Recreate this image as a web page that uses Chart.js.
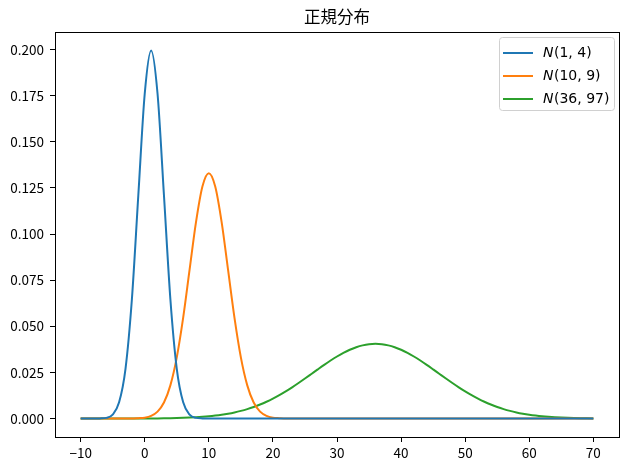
<!DOCTYPE html>
<html>
<head>
<meta charset="utf-8">
<script src="https://cdn.jsdelivr.net/npm/chart.js@4"></script>
<style>
html,body{margin:0;padding:0;background:#fff;}
canvas{display:block;}
</style>
</head>
<body>
<canvas id="c" width="630" height="470"></canvas>
<script>
const chartTitle = '正規分布';
const seriesLabels = [['N', '(1, 4)'], ['N', '(10, 9)'], ['N', '(36, 97)']];
const seriesColors = ['#1f77b4', '#ff7f0e', '#2ca02c'];
const xTickValues = [-10, 0, 10, 20, 30, 40, 50, 60, 70];
const yTickValues = [0, 0.025, 0.05, 0.075, 0.1, 0.125, 0.15, 0.175, 0.2];

const xValues = [
 -10,-9,-8,-7,-6,-5,-4,-3,-2,-1,
 0,1,2,3,4,5,6,7,8,9,
 10,11,12,13,14,15,16,17,18,19,
 20,21,22,23,24,25,26,27,28,29,
 30,31,32,33,34,35,36,37,38,39,
 40,41,42,43,44,45,46,47,48,49,
 50,51,52,53,54,55,56,57,58,59,
 60,61,62,63,64,65,66,67,68,69,
 70
];
const blueValues = [
 0,0,0,0.0001,0.0004,0.0022,0.0088,0.0270,0.0648,0.1210,
 0.1760,0.1995,0.1760,0.1210,0.0648,0.0270,0.0088,0.0022,0.0004,0.0001,
 0,0,0,0,0,0,0,0,0,0,
 0,0,0,0,0,0,0,0,0,0,
 0,0,0,0,0,0,0,0,0,0,
 0,0,0,0,0,0,0,0,0,0,
 0,0,0,0,0,0,0,0,0,0,
 0,0,0,0,0,0,0,0,0,0,
 0
];
const orangeValues = [
 0,0,0,0,0,0,0,0,0,0.0002,
 0.0005,0.0015,0.0038,0.0087,0.0180,0.0332,0.0547,0.0807,0.1065,0.1258,
 0.1330,0.1258,0.1065,0.0807,0.0547,0.0332,0.0180,0.0087,0.0038,0.0015,
 0.0005,0.0002,0,0,0,0,0,0,0,0,
 0,0,0,0,0,0,0,0,0,0,
 0,0,0,0,0,0,0,0,0,0,
 0,0,0,0,0,0,0,0,0,0,
 0,0,0,0,0,0,0,0,0,0,
 0
];
const greenValues = [
 0,0.000001,0.000002,0.000003,0.000005,0.000007,0.000011,0.000016,0.000024,0.000035,
 0.000051,0.000073,0.000105,0.000148,0.000207,0.000286,0.000392,0.000531,0.000712,0.000946,
 0.00124,0.00162,0.00208,0.00265,0.00334,0.00417,0.00515,0.00630,0.00762,0.00913,
 0.01083,0.01270,0.01475,0.01695,0.01928,0.02171,0.02419,0.02668,0.02913,0.03147,
 0.03365,0.03561,0.03730,0.03867,0.03968,0.04030,0.04051,0.04030,0.03968,0.03867,
 0.03730,0.03561,0.03365,0.03147,0.02913,0.02668,0.02419,0.02171,0.01928,0.01695,
 0.01475,0.01270,0.01083,0.00913,0.00762,0.00630,0.00515,0.00417,0.00334,0.00265,
 0.00208,0.00162,0.00124,0.000946,0.000712,0.000531,0.000392,0.000286,0.000207,0.000148,
 0.000105
];

const allSeries = [blueValues, orangeValues, greenValues];
const tickFont = '"Noto Sans CJK JP", sans-serif';

const frameAndText = {
  id: 'frameAndText',
  afterDraw(chart) {
    const ctx = chart.ctx, a = chart.chartArea;
    ctx.save();
    ctx.strokeStyle = '#000';
    ctx.lineWidth = 1;
    ctx.strokeRect(Math.round(a.left) + 0.5, Math.round(a.top) + 0.5,
                   Math.round(a.right - a.left), Math.round(a.bottom - a.top));
    // title
    ctx.fillStyle = '#000';
    ctx.font = '16.5px ' + tickFont;
    ctx.textAlign = 'center';
    ctx.textBaseline = 'middle';
    ctx.fillText(chartTitle, (a.left + a.right) / 2, 17);
    // legend
    const bw = 115, bh = 73;
    const bx = a.right - 5 - bw, by = a.top + 5;
    ctx.beginPath();
    if (ctx.roundRect) ctx.roundRect(bx + 0.5, by + 0.5, bw, bh, 3); else ctx.rect(bx + 0.5, by + 0.5, bw, bh);
    ctx.fillStyle = 'rgba(255,255,255,0.8)';
    ctx.fill();
    ctx.strokeStyle = '#d0d0d0';
    ctx.lineWidth = 1;
    ctx.stroke();
    ctx.textAlign = 'left';
    ctx.textBaseline = 'middle';
    for (let i = 0; i < seriesLabels.length; i++) {
      const yy = by + 16 + i * 23;
      ctx.strokeStyle = seriesColors[i];
      ctx.lineWidth = 2;
      ctx.beginPath();
      ctx.moveTo(bx + 4, yy);
      ctx.lineTo(bx + 34, yy);
      ctx.stroke();
      ctx.fillStyle = '#000';
      ctx.font = 'italic 14px "DejaVu Sans"';
      const tx = bx + 44;
      ctx.fillText(seriesLabels[i][0], tx, yy);
      const w = ctx.measureText(seriesLabels[i][0]).width;
      ctx.font = '14px "DejaVu Sans"';
      ctx.fillText(seriesLabels[i][1], tx + w + 0.5, yy);
    }
    ctx.restore();
  }
};

new Chart(document.getElementById('c'), {
  type: 'line',
  data: {
    datasets: allSeries.map((vals, i) => ({
      label: seriesLabels[i].join(''),
      data: xValues.map((x, j) => ({ x: x, y: vals[j] })),
      borderColor: seriesColors[i],
      backgroundColor: seriesColors[i],
      borderWidth: 2,
      pointRadius: 0,
      fill: false,
      cubicInterpolationMode: 'monotone'
    }))
  },
  options: {
    responsive: false,
    animation: false,
    events: [],
    layout: { padding: { top: 32, right: 11, left: 0, bottom: 0 } },
    plugins: { legend: { display: false }, tooltip: { enabled: false }, title: { display: false } },
    scales: {
      x: {
        type: 'linear',
        min: -14,
        max: 74,
        afterBuildTicks(s) { s.ticks = xTickValues.map(v => ({ value: v })); },
        afterFit(s) { s.height = 33; },
        border: { display: true, color: '#000', width: 1 },
        grid: { display: true, drawOnChartArea: false, drawTicks: true, tickLength: 5, tickColor: '#000', tickWidth: 1 },
        ticks: {
          color: '#000',
          padding: 3,
          maxRotation: 0,
          autoSkip: false,
          font: { family: tickFont, size: 13.5 },
          callback: v => (v < 0 ? '\u2212' + Math.abs(v) : String(v))
        }
      },
      y: {
        min: -0.009975,
        max: 0.209475,
        afterBuildTicks(s) { s.ticks = yTickValues.map(v => ({ value: v })); },
        afterFit(s) { s.width = 55; },
        border: { display: true, color: '#000', width: 1 },
        grid: { display: true, drawOnChartArea: false, drawTicks: true, tickLength: 5, tickColor: '#000', tickWidth: 1 },
        ticks: {
          color: '#000',
          padding: 6,
          autoSkip: false,
          font: { family: tickFont, size: 13.5 },
          callback: v => Number(v).toFixed(3)
        }
      }
    }
  },
  plugins: [frameAndText]
});
</script>
</body>
</html>
